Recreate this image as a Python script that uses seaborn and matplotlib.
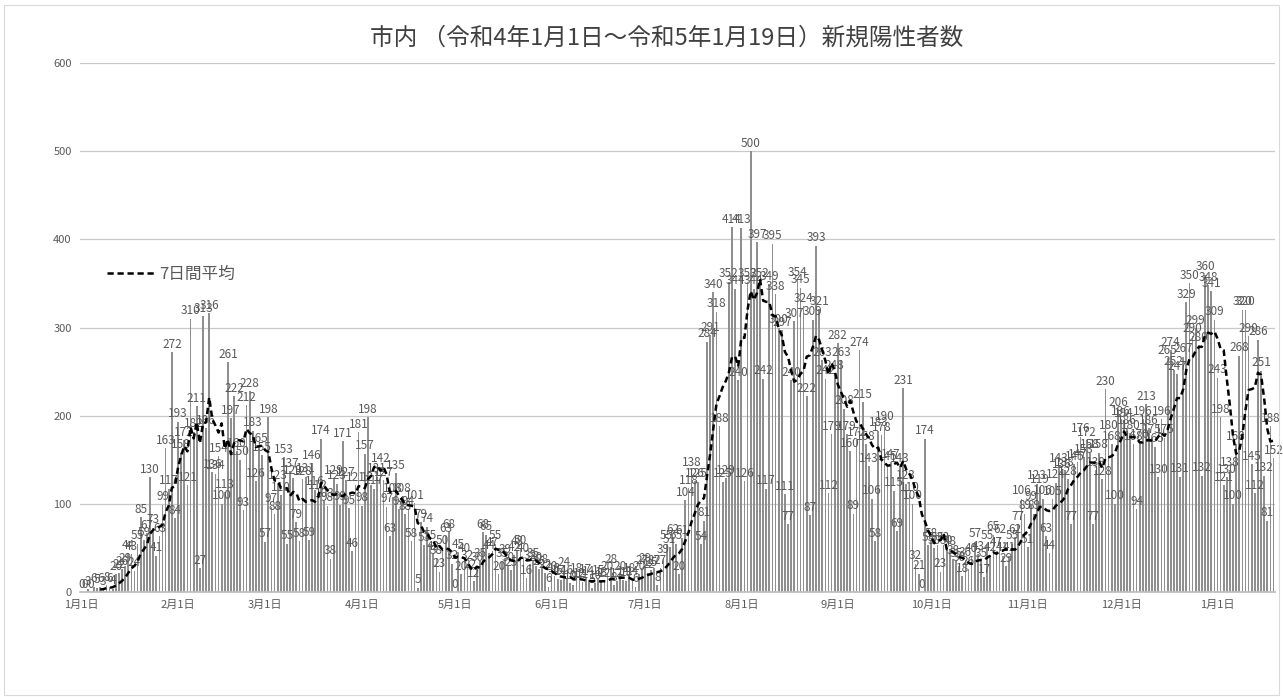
import matplotlib
matplotlib.use("Agg")
import matplotlib.pyplot as plt
import numpy as np
import pandas as pd
import seaborn as sns


#----------------------------------------------------------------------------------------------------
# daily new cases (2022-01-01 .. 2023-01-19)
jan22 = [0, 0, 3, 0, 6, 5, 6, 3, 8, 6, 4, 20, 22, 26, 29, 44, 43, 24, 55, 85, 59,
         67, 130, 73, 41, 63, 99, 163, 117, 272, 84]
feb22 = [193, 158, 172, 121, 310, 182, 211, 27, 313, 186, 316, 136, 134, 154, 100,
         113, 261, 197, 222, 160, 150, 93, 212, 228, 183, 126, 165, 155]
mar22 = [57, 198, 97, 88, 123, 110, 153, 55, 137, 129, 79, 58, 128, 131, 59, 146,
         116, 112, 174, 103, 98, 38, 129, 123, 99, 171, 127, 95, 46, 121, 181]
apr22 = [98, 157, 198, 121, 117, 131, 142, 127, 97, 63, 108, 135, 94, 108, 88, 94,
         58, 101, 5, 79, 53, 74, 55, 43, 38, 23, 50, 63, 68, 32]
may22 = [0, 45, 20, 40, 32, 22, 12, 30, 35, 68, 65, 44, 47, 55, 20, 35, 39, 30, 25,
         42, 48, 50, 40, 16, 32, 35, 30, 26, 28, 22, 6]
jun22 = [20, 18, 15, 14, 24, 16, 10, 8, 18, 12, 11, 17, 14, 5, 10, 15, 13, 12, 20,
         28, 8, 12, 20, 14, 13, 18, 14, 6, 20, 27]
jul22 = [29, 22, 25, 27, 8, 27, 39, 55, 51, 62, 55, 20, 61, 104, 118, 138, 126, 125,
         54, 81, 284, 291, 340, 318, 188, 125, 129, 352, 414, 344, 240]
aug22 = [413, 126, 352, 500, 344, 397, 352, 242, 117, 349, 395, 338, 300, 297, 111,
         77, 240, 307, 354, 345, 324, 222, 87, 309, 393, 321, 263, 242, 112, 179, 248]
sep22 = [282, 263, 208, 179, 160, 89, 172, 274, 215, 168, 143, 106, 58, 183, 178,
         190, 145, 147, 115, 69, 143, 231, 123, 110, 100, 32, 21, 0, 174, 53]
oct22 = [58, 50, 53, 23, 53, 50, 48, 38, 35, 30, 18, 36, 26, 40, 57, 43, 35, 17, 55,
         42, 65, 47, 62, 41, 29, 41, 55, 62, 77, 106, 89]
nov22 = [51, 99, 89, 123, 119, 106, 63, 44, 105, 124, 143, 136, 138, 128, 77, 145,
         147, 176, 153, 172, 158, 77, 138, 158, 128, 230, 180, 168, 100, 206]
dec22 = [196, 194, 186, 180, 168, 94, 170, 196, 213, 186, 175, 165, 130, 196, 175,
         265, 274, 252, 247, 131, 267, 329, 350, 290, 299, 280, 132, 360, 348, 341, 309]
jan23 = [243, 198, 121, 130, 138, 100, 168, 268, 320, 320, 290, 145, 112, 286, 251,
         132, 81, 188, 152]

month_labels = ['1月1日', '2月1日', '3月1日', '4月1日', '5月1日', '6月1日', '7月1日',
                '8月1日', '9月1日', '10月1日', '11月1日', '12月1日', '1月1日']


#----------------------------------------------------------------------------------------------------
months = [jan22, feb22, mar22, apr22, may22, jun22, jul22, aug22, sep22, oct22, nov22, dec22, jan23]
cases = [v for m in months for v in m]
month_starts = list(np.cumsum([0] + [len(m) for m in months[:-1]]))

df = pd.DataFrame({'day': np.arange(len(cases)), 'cases': cases})
df['avg7'] = df['cases'].rolling(7).mean()


#----------------------------------------------------------------------------------------------------
sns.set_theme(style='white')
plt.rcParams['font.family'] = ['Noto Sans CJK JP', 'DejaVu Sans']

fig = plt.figure(figsize=(12.83, 6.97), dpi=100)
ax = fig.add_axes([0.0624, 0.1506, 0.9314, 0.759])

sns.barplot(data=df, x='day', y='cases', color='#8f8f8f', width=0.55,
            saturation=1, linewidth=0, ax=ax, zorder=2)

ax.bar_label(ax.containers[0], labels=[str(v) for v in cases],
             fontsize=8.5, color='#595959', padding=1)

sns.lineplot(data=df, x='day', y='avg7', color='black', linewidth=1.8,
             linestyle=(0, (2.5, 1.5)), ax=ax, label='7日間平均', zorder=3)

ax.set_xlim(-0.5, len(cases) - 0.5)
ax.set_ylim(0, 600)
ax.set_yticks(range(0, 601, 100))
ax.set_xticks(month_starts)
ax.set_xticklabels(month_labels)
ax.tick_params(axis='both', labelsize=8, colors='#595959', length=0, pad=6)
ax.set_xlabel('')
ax.set_ylabel('')
ax.grid(axis='y', color='#c8c8c8', linewidth=0.9, zorder=0)
ax.set_axisbelow(True)

for side in ['top', 'right', 'left']:
    ax.spines[side].set_visible(False)
ax.spines['bottom'].set_color('#bfbfbf')

ax.legend(loc='upper left', bbox_to_anchor=(0.01, 0.645), frameon=False,
          fontsize=12, handlelength=3.0, handletextpad=0.1, labelcolor='#595959')

fig.suptitle('市内 （令和4年1月1日～令和5年1月19日）新規陽性者数', x=0.52, y=0.962,
             fontsize=17, color='#404040')

fig.patches.append(plt.Rectangle((0.003, 0.003), 0.994, 0.99, transform=fig.transFigure,
                                 fill=False, edgecolor='#d9d9d9', linewidth=0.8))

plt.savefig('out.png', dpi=100)
